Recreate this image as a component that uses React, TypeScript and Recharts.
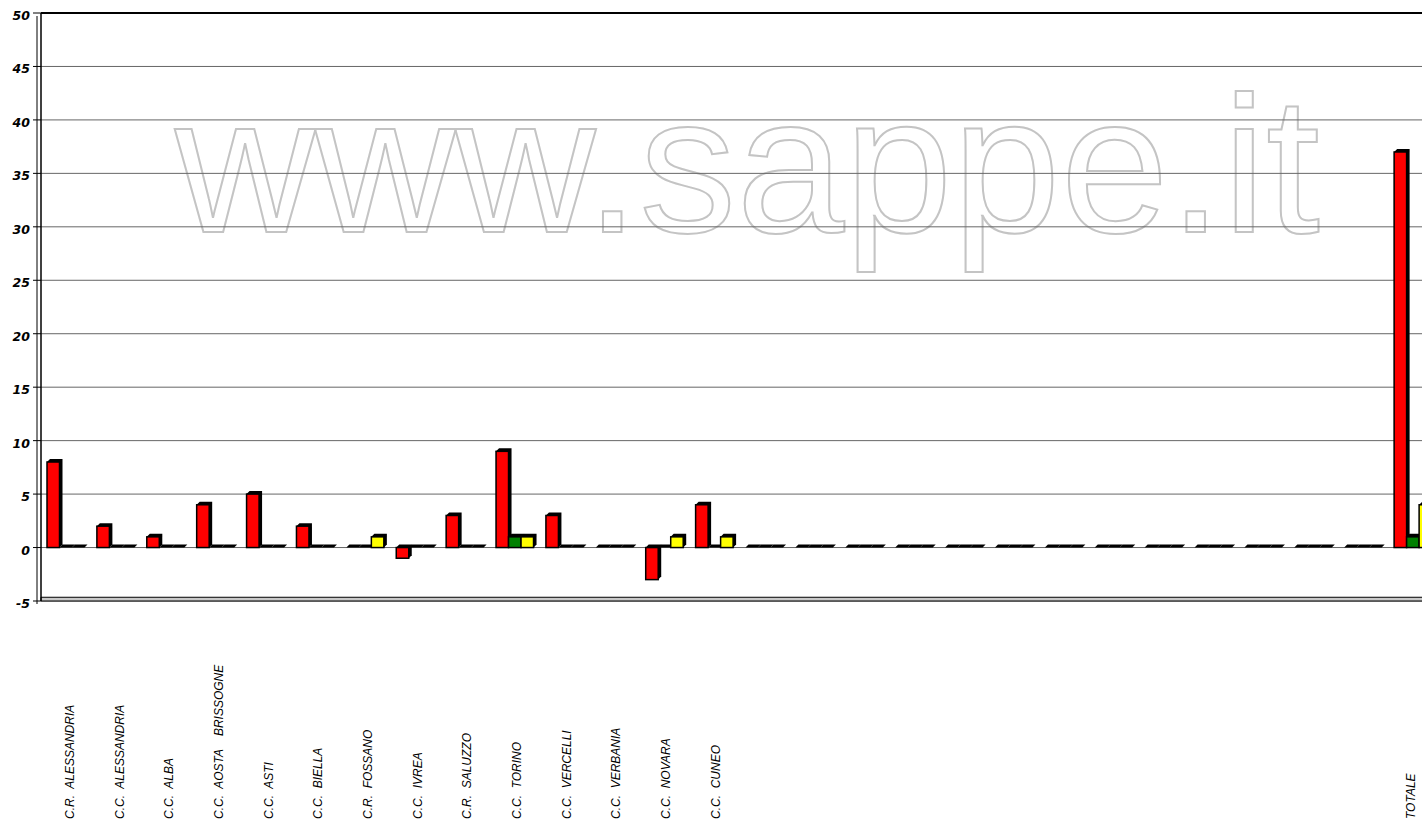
import React from "react";
import {
  BarChart,
  Bar,
  XAxis,
  YAxis,
  CartesianGrid,
  ReferenceLine,
  ReferenceArea,
} from "recharts";

// istituti (the 13 blank slots are empty columns in the original sheet)
const categories = [
  "C.R.  ALESSANDRIA",
  "C.C.  ALESSANDRIA",
  "C.C.  ALBA",
  "C.C.  AOSTA    BRISSOGNE",
  "C.C.  ASTI",
  "C.C.  BIELLA",
  "C.R.  FOSSANO",
  "C.C.  IVREA",
  "C.R.  SALUZZO",
  "C.C.  TORINO",
  "C.C.  VERCELLI",
  "C.C.  VERBANIA",
  "C.C.  NOVARA",
  "C.C.  CUNEO",
  "", "", "", "", "", "", "", "", "", "", "", "", "",
  "TOTALE",
];

const redValues = [8, 2, 1, 4, 5, 2, 0, -1, 3, 9, 3, 0, -3, 4, 0, 0, 0, 0, 0, 0, 0, 0, 0, 0, 0, 0, 0, 37];
const greenValues = [0, 0, 0, 0, 0, 0, 0, 0, 0, 1, 0, 0, 0, 0, 0, 0, 0, 0, 0, 0, 0, 0, 0, 0, 0, 0, 0, 1];
const yellowValues = [0, 0, 0, 0, 0, 0, 1, 0, 0, 1, 0, 0, 1, 1, 0, 0, 0, 0, 0, 0, 0, 0, 0, 0, 0, 0, 0, 4];

const yTicks = [-5, 0, 5, 10, 15, 20, 25, 30, 35, 40, 45, 50];

const data = categories.map((name, i) => ({
  name,
  red: redValues[i],
  green: greenValues[i],
  yellow: yellowValues[i],
}));

// excel-style 3d column: black depth block behind a coloured front face
const Bar3D = (props: any) => {
  const { x, y, width, height, fill } = props;
  if (x == null || y == null) return null;
  const d = 3;
  const top = height < 0 ? y + height : y;
  const h = Math.abs(height || 0);
  const pts = [
    [x, top],
    [x + d, top - d],
    [x + width + d, top - d],
    [x + width + d, top + h - d],
    [x + width, top + h],
    [x, top + h],
  ]
    .map((p) => p.join(","))
    .join(" ");
  return (
    <g>
      <polygon points={pts} fill="#000" />
      {h > 0 && (
        <rect x={x} y={top} width={width} height={h} fill={fill} stroke="#000" strokeWidth={1.5} />
      )}
    </g>
  );
};

const YTick = (props: any) => {
  const { x, y, payload } = props;
  return (
    <text
      x={x - 1}
      y={y + 7}
      textAnchor="end"
      fontFamily="DejaVu Sans, sans-serif"
      fontWeight="bold"
      fontStyle="italic"
      fontSize={12.5}
      fill="#000"
    >
      {payload.value}
    </text>
  );
};

const XTick = (props: any) => {
  const { x, payload, index } = props;
  // excel spaced the labels a touch tighter than the columns
  const dx = 8 - (index || 0) * 0.22;
  return (
    <text
      transform={`translate(${x + dx}, 819) rotate(-90)`}
      textAnchor="start"
      fontFamily="Liberation Sans, Arial, sans-serif"
      fontStyle="italic"
      fontSize={12}
      fill="#000"
      style={{ whiteSpace: "pre" }}
    >
      {payload.value}
    </text>
  );
};

export default function App() {
  return (
    <div
      style={{
        position: "absolute",
        left: 0,
        top: 0,
        width: 1422,
        height: 826,
        overflow: "hidden",
        background: "#fff",
      }}
    >
      {/* watermark */}
      <svg width={1422} height={826} style={{ position: "absolute", left: 0, top: 0 }}>
        <text
          x={175}
          y={232}
          fontFamily="Liberation Sans, Arial, sans-serif"
          fontSize={194}
          textLength={1145}
          lengthAdjust="spacing"
          fill="none"
          stroke="#c4c4c4"
          strokeWidth={2}
        >
          www.sappe.it
        </text>
        {/* outer edge of the 3d wall */}
        <line x1={37} y1={16} x2={37} y2={604} stroke="#000" strokeWidth={1} />
      </svg>
      <div style={{ position: "absolute", left: 0, top: 0 }}>
        <BarChart
          width={1438}
          height={826}
          data={data}
          margin={{ top: 13, right: 0, bottom: 0, left: 0 }}
          barGap={0}
          barSize={12.5}
        >
          <CartesianGrid vertical={false} stroke="#666" strokeWidth={1} />
          <ReferenceArea y1={-5} y2={-4.65} fill="#c8c8c8" fillOpacity={1} stroke="#000" strokeWidth={1} />
          <ReferenceLine y={50} stroke="#000" strokeWidth={2} />
          <XAxis
            dataKey="name"
            interval={0}
            height={225}
            axisLine={false}
            tickLine={false}
            tick={<XTick />}
          />
          <YAxis
            domain={[-5, 50]}
            ticks={yTicks}
            width={41}
            interval={0}
            axisLine={{ stroke: "#000", strokeWidth: 1.5 }}
            tickLine={{ stroke: "#000" }}
            tickSize={8}
            tick={<YTick />}
          />
          <Bar dataKey="red" fill="#ff0000" shape={<Bar3D />} isAnimationActive={false} />
          <Bar dataKey="green" fill="#008000" shape={<Bar3D />} isAnimationActive={false} />
          <Bar dataKey="yellow" fill="#ffff00" shape={<Bar3D />} isAnimationActive={false} />
        </BarChart>
      </div>
    </div>
  );
}
